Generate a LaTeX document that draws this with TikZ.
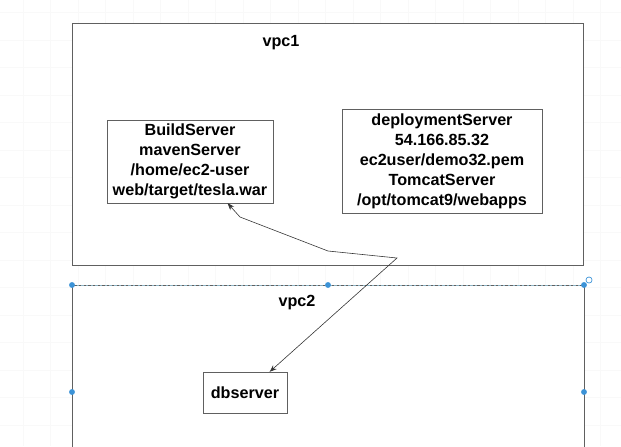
\documentclass[tikz,border=0pt]{standalone}
\usepackage{fontspec}
\setmainfont{Liberation Sans}
\usetikzlibrary{arrows.meta}
\begin{document}
\begin{tikzpicture}[x=0.03cm,y=-0.03cm,
  server/.style={draw=gray!75!black,fill=white,align=center,inner sep=2pt,
    font=\bfseries\fontsize{13.8}{17}\selectfont},
  vpcbox/.style={draw=gray!75!black,fill=white,line width=0.7pt},
  vpclabel/.style={font=\bfseries\fontsize{13.8}{15}\selectfont},
  handle/.style={circle,fill=cyan!65!blue!80,inner sep=0pt,minimum size=5pt},
  link/.style={draw=black!80,line width=0.5pt,{Stealth[length=6pt,width=4.5pt]}-{Stealth[length=6pt,width=4.5pt]}}]
\useasboundingbox (0,0) rectangle (621,446);
\clip (0,0) rectangle (621,446);
% faint canvas grid
\foreach \gx in {23,50.5,...,621} \draw[gray!5] (\gx,0) -- (\gx,446);
\foreach \gy in {12.5,40,...,446} \draw[gray!5] (0,\gy) -- (621,\gy);
% the two vpcs
\draw[vpcbox] (72,23) rectangle (583,265);
\node[vpclabel] (vpcone) at (281,43) {vpc1};
\draw[vpcbox] (72,285) rectangle (584,470);
\draw[white!40!cyan!50!gray,dash pattern=on 2pt off 2pt,line width=0.5pt] (72,285) -- (584,285);
\node[vpclabel] (vpctwo) at (297,303) {vpc2};
% servers
\node[server,minimum width=4.98cm,minimum height=2.49cm] (build) at (190,161.5)
  {BuildServer\\mavenServer\\/home/ec2-user\\web/target/tesla.war};
\node[server,minimum width=6cm,minimum height=3.12cm] (deploy) at (442,161)
  {deploymentServer\\54.166.85.32\\ec2user/demo32.pem\\TomcatServer\\/opt/tomcat9/webapps};
\node[server,minimum width=2.52cm,minimum height=1.23cm] (db) at (245,392.5) {dbserver};
% connector with its bends
\coordinate (hub) at (397,258);
\coordinate (bendb) at (328,251);
\coordinate (bendc) at (240,217);
\draw[link] (db.40) -- (hub) -- (bendb) -- (bendc) -- (build.-48);
% selection handles on vpc2
\foreach \hx/\hy in {72/285,328/285,584/285,72/392,584/392}
  \node[handle] at (\hx,\hy) {};
\draw[cyan!65!blue!80,line width=0.6pt] (589,280) circle[radius=2.6pt];
\end{tikzpicture}
\end{document}
